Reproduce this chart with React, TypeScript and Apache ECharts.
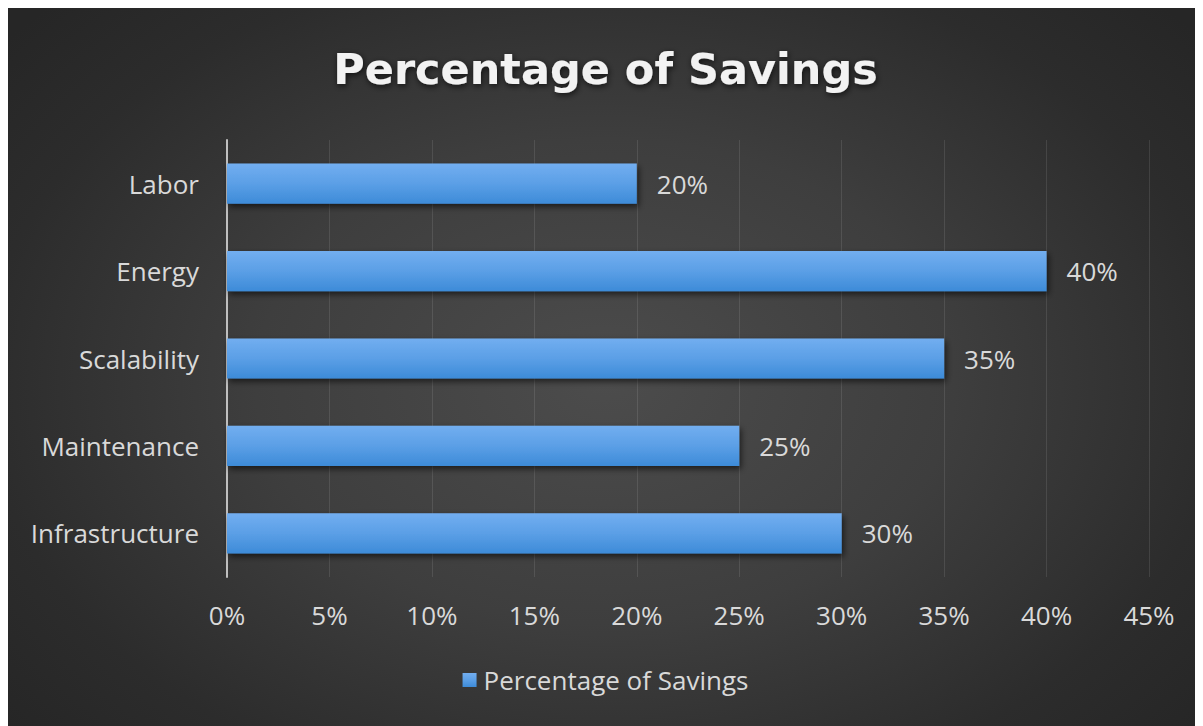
import React, { useEffect, useRef } from "react";
import * as echarts from "echarts";

const categories = ["Infrastructure", "Maintenance", "Scalability", "Energy", "Labor"];
const savings = [30, 25, 35, 40, 20];
const seriesName = "Percentage of Savings";
const titleText = "Percentage of Savings";

export default function App() {
  const ref = useRef<HTMLDivElement>(null);
  useEffect(() => {
    if (!ref.current) return;
    const chart = echarts.init(ref.current, null, { renderer: "svg" });
    const font = "'Open Sans', 'Noto Sans', sans-serif";
    chart.setOption({
      animation: false,
      backgroundColor: "transparent",
      title: {
        text: titleText,
        left: "center",
        top: 34,
        textStyle: {
          color: "#f2f2f2",
          fontSize: 43,
          fontWeight: "bold",
          fontFamily: "'DejaVu Sans', sans-serif",
          textShadowColor: "rgba(0,0,0,0.7)",
          textShadowBlur: 6,
          textShadowOffsetX: 1,
          textShadowOffsetY: 2,
        },
      },
      legend: {
        bottom: 28,
        left: "center",
        icon: "rect",
        itemWidth: 14,
        itemHeight: 14,
        itemGap: 6,
        textStyle: { color: "#d9d9d9", fontSize: 26, fontFamily: font, padding: [0, 0, 0, 2] },
        data: [seriesName],
      },
      grid: { left: 219, right: 54, top: 132, bottom: 149, containLabel: false },
      xAxis: {
        type: "value",
        min: 0,
        max: 45,
        interval: 5,
        axisLine: { show: false },
        axisTick: { show: false },
        splitLine: { show: true, lineStyle: { color: "rgba(255,255,255,0.1)", width: 1 } },
        axisLabel: {
          color: "#d9d9d9",
          fontSize: 26,
          fontFamily: font,
          margin: 25,
          formatter: (v: number) => v + "%",
        },
      },
      yAxis: {
        type: "category",
        data: categories,
        axisLine: { show: true, lineStyle: { color: "#bfbfbf", width: 2 } },
        axisTick: { show: false },
        axisLabel: { color: "#d9d9d9", fontSize: 26, fontFamily: font, margin: 28 },
      },
      series: [
        {
          name: seriesName,
          type: "bar",
          data: savings,
          barCategoryGap: "54%",
          itemStyle: {
            color: new echarts.graphic.LinearGradient(0, 0, 0, 1, [
              { offset: 0, color: "#72aef0" },
              { offset: 0.5, color: "#5b9fe6" },
              { offset: 1, color: "#3d8bd8" },
            ]),
            shadowColor: "rgba(0,0,0,0.6)",
            shadowBlur: 6,
            shadowOffsetX: 2,
            shadowOffsetY: 3,
          },
          label: {
            show: true,
            position: "right",
            distance: 20,
            color: "#d9d9d9",
            fontSize: 26,
            fontFamily: font,
            formatter: (p: any) => p.value + "%",
          },
        },
      ],
    });
    return () => chart.dispose();
  }, []);
  return (
    <div
      ref={ref}
      style={{
        width: 1195,
        height: 718,
        background:
          "radial-gradient(ellipse 65% 75% at 50% 52%, #4c4c4c 0%, #3e3e3e 45%, #2c2c2c 80%, #262626 100%)",
      }}
    />
  );
}
